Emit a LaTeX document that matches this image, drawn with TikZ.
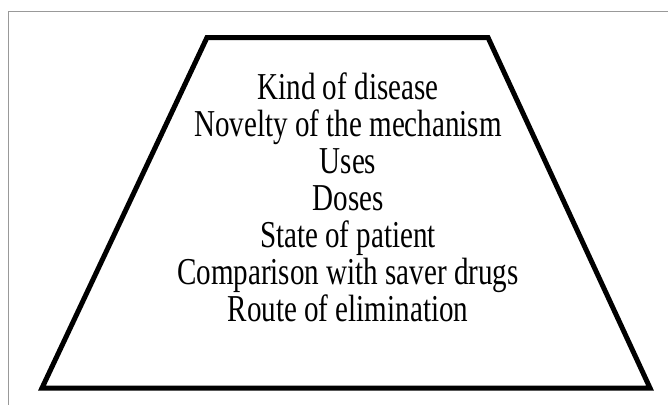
\documentclass[tikz,border=0pt]{standalone}
\usepackage{fontspec}
\setmainfont{Liberation Serif}
\newfontfamily\narrowserif[FakeStretch=0.765]{Liberation Serif}
\tikzset{
	item/.style={anchor=base, inner sep=0pt, font=\fontsize{38}{40}\narrowserif},
	frame/.style={draw=black!40, line width=1pt},
	trap/.style={draw=black, line width=5pt, line join=miter}
}
\begin{document}
\begin{tikzpicture}[x=1pt, y=-1pt]
	\useasboundingbox (0, 0) rectangle (668, 405);
	\draw[frame] (668, 11) -- (8.5, 11) -- (8.5, 405);
	\draw[trap] (207, 37.5) -- (488, 37.5) -- (650, 388) -- (42, 388) -- cycle;
	\node[item] (kind) at (348, 99) {Kind of disease};
	\node[item] (novelty) at (348, 136) {Novelty of the mechanism};
	\node[item] (uses) at (348, 173) {Uses};
	\node[item] (doses) at (348, 210) {Doses};
	\node[item] (state) at (348, 247) {State of patient};
	\node[item] (comparison) at (348, 284) {Comparison with saver drugs};
	\node[item] (route) at (348, 321) {Route of elimination};
\end{tikzpicture}
\end{document}
